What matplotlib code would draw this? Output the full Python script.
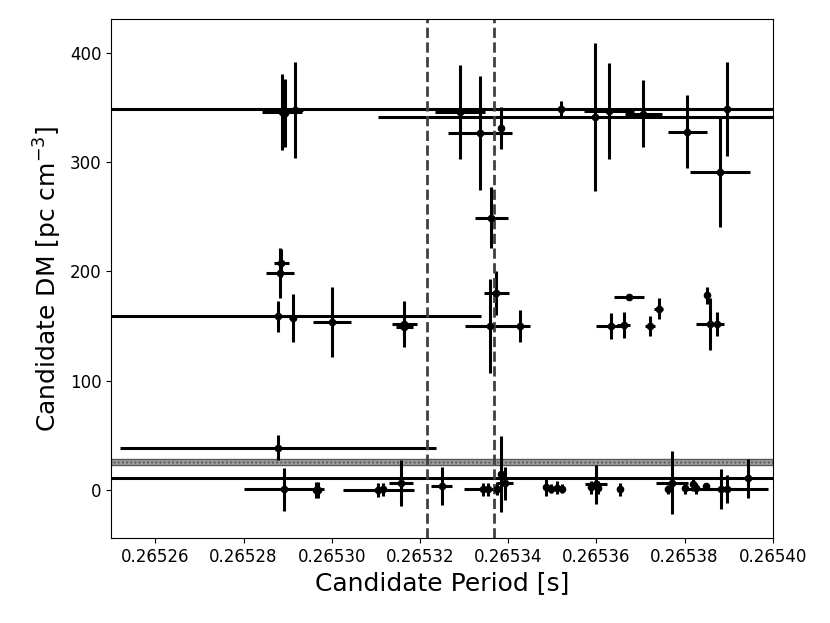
import numpy as np
import matplotlib
matplotlib.use("Agg")
import matplotlib.pyplot as plt

# candidate periods [s], DMs and their errors
period = [
    0.2652887, 0.2652893, 0.2652917, 0.2653291, 0.2653336, 0.2653383, 0.2653362,
    0.2653519, 0.2653597, 0.2653629, 0.2653706, 0.2653806, 0.2653880, 0.2653896,
    0.2652885, 0.2652883, 0.2652879, 0.2652912, 0.2653001, 0.2653165, 0.2653165,
    0.2653373, 0.2653360, 0.2653427, 0.2653633, 0.2653662, 0.2653674, 0.2653721,
    0.2653741, 0.2653851, 0.2653857, 0.2653874,
    0.2652879, 0.2652892, 0.2652964, 0.2652970, 0.2653106, 0.2653116, 0.2653157,
    0.2653249, 0.2653343, 0.2653355, 0.2653375, 0.2653383, 0.2653393, 0.2653487,
    0.2653498, 0.2653510, 0.2653522, 0.2653588, 0.2653599, 0.2653604, 0.2653653,
    0.2653763, 0.2653772, 0.2653802, 0.2653819, 0.2653827, 0.2653848, 0.2653882,
    0.2653896, 0.2653944,
]
dm = [
    345.7, 345.0, 348.0, 345.7, 326.8, 331.4, 249.0,
    348.8, 341.4, 346.6, 344.5, 328.0, 291.0, 348.8,
    207.9, 198.7, 159.0, 157.5, 153.5, 152.0, 149.0,
    180.4, 150.0, 150.0, 150.0, 150.8, 176.7, 150.0,
    166.0, 178.0, 152.0, 152.0,
    38.6, 0.5, 0.0, 0.0, 0.0, 0.5, 6.6,
    3.5, 0.5, 0.5, 1.0, 14.8, 6.0, 2.6,
    1.0, 2.0, 1.0, 2.6, 5.0, 2.0, 0.5,
    0.5, 6.6, 1.4, 5.0, 1.4, 3.5, 1.0,
    1.0, 10.5,
]
period_err = [
    4.5e-6, 0.8e-6, 1.8e-6, 5.7e-6, 7.2e-6, 0.5e-6, 3.8e-6,
    0.5e-6, 4.92e-5, 5.7e-6, 4.2e-6, 4.4e-6, 6.8e-6, 1.5e-4,
    1.7e-6, 3.1e-6, 4.6e-5, 0.8e-6, 4.3e-6, 2.9e-6, 2.0e-6,
    2.8e-6, 5.8e-6, 2.3e-6, 3.4e-6, 1.4e-6, 3.4e-6, 1.1e-6,
    1.1e-6, 0.6e-6, 3.2e-6, 1.4e-6,
    3.58e-5, 9.0e-6, 0.6e-6, 0.6e-6, 8.0e-6, 0.6e-6, 2.7e-6,
    2.4e-6, 4.3e-6, 0.6e-6, 0.6e-6, 0.6e-6, 1.8e-6, 0.6e-6,
    0.6e-6, 0.6e-6, 0.6e-6, 0.4e-6, 2.5e-6, 0.6e-6, 0.4e-6,
    0.6e-6, 3.6e-6, 0.5e-6, 0.5e-6, 0.5e-6, 0.4e-6, 4.0e-6,
    9.3e-6, 1.5e-4,
]
dm_err = [
    35, 31, 44, 43, 52, 19, 28,
    7, 68, 44, 31, 33, 50, 43,
    13, 23, 14, 22, 32, 21, 8,
    20, 43, 15, 12, 12, 3, 9,
    10, 8, 24, 11,
    11.5, 20, 7, 7, 6, 6, 21,
    17.5, 6, 6, 6, 35, 15, 8,
    4, 6, 4, 6, 17.5, 6, 6,
    4, 29, 5, 6, 5, 3, 18,
    13, 18,
]

period_lines = [0.2653215, 0.2653368]
rfi_band = (22.5, 28.5)


def main() -> None:
    fig = plt.figure(figsize=(8.3, 6.23), dpi=100)
    ax = fig.add_axes([0.134, 0.1364, 0.797, 0.8331])

    # masked DM range
    ax.axhspan(rfi_band[0], rfi_band[1], facecolor="0.62", edgecolor="0.35",
               hatch="....", linewidth=1.0)
    ax.errorbar(period, dm, xerr=period_err, yerr=dm_err, fmt="o", color="k",
                ms=4.5, elinewidth=2.2, capsize=0)
    for p in period_lines:
        ax.axvline(p, color="0.25", ls="--", lw=2)

    ax.set_xlim(0.26525, 0.26540)
    ax.set_ylim(-44, 431)
    xt = np.arange(0.26526, 0.265401, 0.00002)
    ax.set_xticks(xt)
    ax.set_xticklabels([f"{t:.5f}" for t in xt])
    ax.set_yticks([0, 100, 200, 300, 400])
    ax.tick_params(labelsize=12)
    ax.set_xlabel("Candidate Period [s]", fontsize=18)
    ax.set_ylabel(r"Candidate DM [pc cm$^{-3}$]", fontsize=18)

    fig.savefig("out.png", dpi=100)


if __name__ == "__main__":
    main()
